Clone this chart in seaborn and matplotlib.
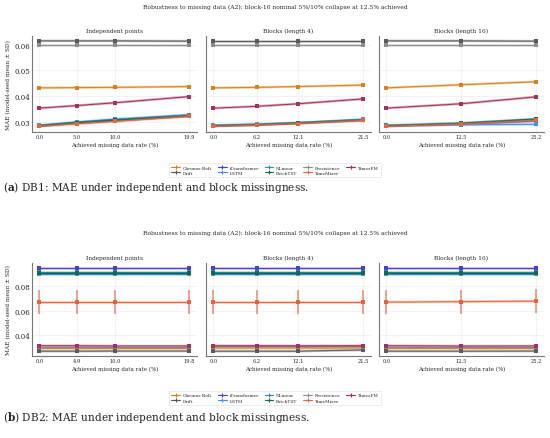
import numpy as np
import pandas as pd
import seaborn as sns
import matplotlib
matplotlib.use('Agg')
from matplotlib import pyplot as plt
from matplotlib.lines import Line2D

models = ["Chronos-Bolt", "Drift", "iTransformer", "LSTM", "NLinear",
          "PatchTST", "Persistence", "TimeMixer", "TimesFM"]
colors = {"Chronos-Bolt": "#d4841f", "Drift": "#5a5a5a", "iTransformer": "#4b3fd1",
          "LSTM": "#3d93e6", "NLinear": "#2b8db5", "PatchTST": "#0e6b4c",
          "Persistence": "#8c8c8c", "TimeMixer": "#e8643d", "TimesFM": "#a3305e"}

panels = ["Independent points", "Blocks (length 4)", "Blocks (length 16)"]

# achieved missing rates per panel
x_db1 = [[0.0, 5.0, 10.0, 19.9], [0.0, 6.2, 12.1, 21.5], [0.0, 12.5, 25.2]]
x_db2 = [[0.0, 4.9, 10.0, 19.8], [0.0, 6.2, 12.1, 21.5], [0.0, 12.5, 25.2]]

# DB1 MAE means
db1_mean = {
    "Chronos-Bolt": [[0.0432, 0.0433, 0.0434, 0.0437], [0.0432, 0.0434, 0.0437, 0.0443], [0.0432, 0.0444, 0.0456]],
    "Drift": [[0.0615, 0.0615, 0.0615, 0.0614], [0.0615, 0.0615, 0.0615, 0.0615], [0.0615, 0.0615, 0.0614]],
    "iTransformer": [[0.0284, 0.0295, 0.0305, 0.0322], [0.0284, 0.0288, 0.0294, 0.0306], [0.0283, 0.0290, 0.0303]],
    "LSTM": [[0.0286, 0.0299, 0.0310, 0.0327], [0.0286, 0.0290, 0.0296, 0.0309], [0.0285, 0.0288, 0.0290]],
    "NLinear": [[0.0285, 0.0297, 0.0307, 0.0325], [0.0285, 0.0289, 0.0295, 0.0308], [0.0286, 0.0294, 0.0309]],
    "PatchTST": [[0.0284, 0.0296, 0.0306, 0.0323], [0.0284, 0.0288, 0.0295, 0.0307], [0.0284, 0.0294, 0.0311]],
    "Persistence": [[0.0600, 0.0600, 0.0600, 0.0600], [0.0600, 0.0600, 0.0600, 0.0600], [0.0600, 0.0600, 0.0600]],
    "TimeMixer": [[0.0282, 0.0292, 0.0301, 0.0321], [0.0282, 0.0287, 0.0293, 0.0305], [0.0282, 0.0291, 0.0305]],
    "TimesFM": [[0.0353, 0.0363, 0.0374, 0.0398], [0.0353, 0.0360, 0.0370, 0.0389], [0.0353, 0.0370, 0.0397]],
}
db1_sd = {m: [[0.0002] * len(x) for x in x_db1] for m in models}

# DB2 MAE means
db2_mean = {
    "Chronos-Bolt": [[0.0290, 0.0290, 0.0290, 0.0290], [0.0290, 0.0290, 0.0290, 0.0291], [0.0290, 0.0290, 0.0290]],
    "Drift": [[0.0265, 0.0265, 0.0266, 0.0266], [0.0265, 0.0265, 0.0265, 0.0275], [0.0265, 0.0265, 0.0266]],
    "iTransformer": [[0.0955, 0.0955, 0.0955, 0.0955], [0.0955, 0.0955, 0.0955, 0.0955], [0.0955, 0.0955, 0.0955]],
    "LSTM": [[0.0905, 0.0905, 0.0905, 0.0905], [0.0905, 0.0905, 0.0905, 0.0905], [0.0905, 0.0905, 0.0905]],
    "NLinear": [[0.0918, 0.0918, 0.0918, 0.0918], [0.0918, 0.0918, 0.0918, 0.0918], [0.0918, 0.0918, 0.0918]],
    "PatchTST": [[0.0912, 0.0912, 0.0912, 0.0912], [0.0912, 0.0912, 0.0912, 0.0912], [0.0912, 0.0912, 0.0912]],
    "Persistence": [[0.0302, 0.0302, 0.0302, 0.0302], [0.0302, 0.0302, 0.0302, 0.0303], [0.0302, 0.0302, 0.0302]],
    "TimeMixer": [[0.0670, 0.0670, 0.0670, 0.0670], [0.0670, 0.0670, 0.0670, 0.0670], [0.0670, 0.0674, 0.0678]],
    "TimesFM": [[0.0310, 0.0310, 0.0308, 0.0308], [0.0310, 0.0310, 0.0309, 0.0310], [0.0310, 0.0308, 0.0308]],
}
db2_sd = {m: [[0.0005] * len(x) for x in x_db2] for m in models}
db2_sd["TimeMixer"] = [[0.0100] * 4, [0.0100] * 4, [0.0100] * 3]

sns.set_theme(style="whitegrid")
plt.rcParams['font.family'] = ['DejaVu Serif']
plt.rcParams['mathtext.fontset'] = 'dejavuserif'
plt.rcParams['axes.edgecolor'] = '#777777'
plt.rcParams['grid.color'] = '#ededed'
plt.rcParams['grid.linewidth'] = 0.5

fig = plt.figure(figsize=(5.5, 4.39), dpi=100)
lefts = [0.058, 0.3745, 0.689]
width = 0.300


def draw_block(xs, means, sds, bottom, top, ylim, yticks, title_y, letter, caption, cap_y, leg_y):
    for i, name in enumerate(panels):
        ax = fig.add_axes([lefts[i], bottom, width, top - bottom])
        for m in models:
            df = pd.DataFrame({"x": xs[i], "y": means[m][i]})
            # light halo line, then the SD bars, then the mean line with markers
            ax.plot(df["x"], df["y"], color=colors[m], lw=1.8, alpha=0.4)
            ax.errorbar(df["x"], df["y"], yerr=sds[m][i], fmt='none', ecolor=colors[m],
                        elinewidth=1.1, alpha=0.75, capsize=0)
            sns.lineplot(data=df, x="x", y="y", ax=ax, color=colors[m], lw=0.7,
                         marker='s', markersize=2.2, markeredgewidth=0)
        ax.set_xticks(xs[i])
        ax.set_xticklabels([f"{v:.1f}" for v in xs[i]])
        ax.set_ylim(*ylim)
        ax.set_yticks(yticks)
        ax.tick_params(axis='x', labelsize=3.6, pad=1.5, length=0)
        ax.tick_params(axis='y', labelsize=5, pad=1.5, length=0)
        ax.set_xlabel("Achieved missing data rate (%)", fontsize=4, labelpad=2)
        ax.set_title(name, fontsize=4.2, pad=3)
        if i == 0:
            ax.set_ylabel("MAE (model-seed mean ± SD)", fontsize=4.2, labelpad=2)
        else:
            ax.set_ylabel("")
            ax.set_yticklabels([])
        sns.despine(ax=ax)
        for s in ["left", "bottom"]:
            ax.spines[s].set_linewidth(0.8)
    fig.text(0.5, title_y, "Robustness to missing data (A2); block-16 nominal 5%/10% collapse at 12.5% achieved",
             ha='center', va='center', fontsize=4.3)
    handles = [Line2D([], [], color=colors[m], lw=0.8, marker='+', markersize=3.5,
                      markeredgewidth=0.8) for m in models]
    leg = fig.legend(handles, models, loc='center', bbox_to_anchor=(0.5, leg_y), ncol=5,
                     fontsize=3.2, frameon=True, handlelength=2.0, columnspacing=1.3,
                     borderpad=0.5, labelspacing=0.3, handletextpad=0.6,
                     edgecolor='#dddddd', fancybox=False)
    leg.get_frame().set_linewidth(0.5)
    fig.text(0.006, cap_y, r"($\mathbf{" + letter + r"}$) " + caption,
             fontsize=7.6, va='center', ha='left')


draw_block(x_db1, db1_mean, db1_sd, 0.697, 0.9157, (0.026, 0.0634), [0.03, 0.04, 0.05, 0.06],
           0.984, "a", "DB1: MAE under independent and block missingness.", 0.572, 0.610)
draw_block(x_db2, db2_mean, db2_sd, 0.187, 0.3986, (0.0226, 0.0993), [0.04, 0.06, 0.08],
           0.469, "b", "DB2: MAE under independent and block missingness.", 0.048, 0.091)

fig.savefig("out.png", dpi=100)
